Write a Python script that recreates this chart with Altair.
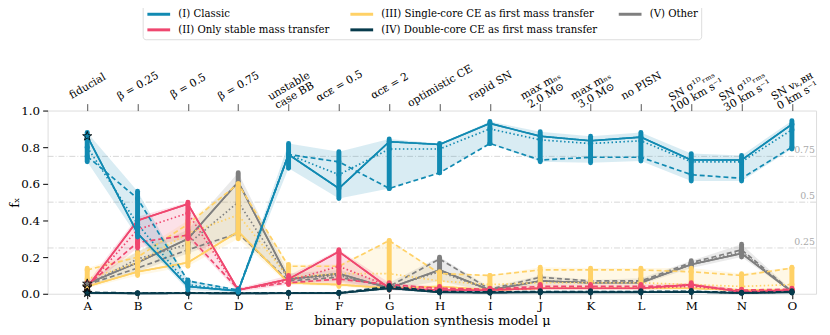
import json
import altair as alt
import pandas as pd

# ---------------- data ----------------
LETTERS = list("ABCDEFGHIJKLMNO")
TOP_LABELS = [
    ["fiducial"], ["β = 0.25"], ["β = 0.5"], ["β = 0.75"],
    ["unstable", "case BB"], ["αᴄᴇ = 0.5"], ["αᴄᴇ = 2"], ["optimistic CE"],
    ["rapid SN"], ["max mₙₛ", "2.0 M⊙"], ["max mₙₛ", "3.0 M⊙"], ["no PISN"],
    ["SN σ¹ᴰᵣₘₛ", "100 km s⁻¹"], ["SN σ¹ᴰᵣₘₛ", "30 km s⁻¹"], ["SN vₖ,ʙʜ", "0 km s⁻¹"],
]
CLASS_NAMES = [
    "(I) Classic",
    "(II) Only stable mass transfer",
    "(III) Single-core CE as first mass transfer",
    "(IV) Double-core CE as first mass transfer",
    "(V) Other",
]
COLORS = ["#118ab2", "#ef476f", "#ffd166", "#073b4c", "#7f7f7f"]

I_SOLID = [0.86, 0.33, 0.04, 0.015, 0.76, 0.575, 0.83, 0.815, 0.93, 0.86, 0.835, 0.855, 0.73, 0.73, 0.925]
I_DOTTED = [0.80, 0.38, 0.05, 0.015, 0.76, 0.65, 0.79, 0.79, 0.90, 0.84, 0.82, 0.835, 0.72, 0.72, 0.895]
I_DASHED = [0.75, 0.52, 0.07, 0.02, 0.76, 0.72, 0.575, 0.66, 0.82, 0.73, 0.745, 0.745, 0.65, 0.63, 0.80]
I_LOW = [0.72, 0.31, 0.02, 0.008, 0.685, 0.52, 0.575, 0.66, 0.82, 0.72, 0.715, 0.725, 0.615, 0.615, 0.79]
I_HIGH = [0.88, 0.56, 0.075, 0.025, 0.82, 0.775, 0.845, 0.82, 0.94, 0.885, 0.86, 0.88, 0.765, 0.755, 0.945]

II_SOLID = [0.035, 0.40, 0.49, 0.02, 0.08, 0.23, 0.03, 0.02, 0.02, 0.03, 0.03, 0.03, 0.05, 0.01, 0.02]
II_DOTTED = [0.04, 0.35, 0.44, 0.02, 0.07, 0.15, 0.04, 0.03, 0.02, 0.03, 0.03, 0.03, 0.04, 0.015, 0.02]
II_DASHED = [0.045, 0.28, 0.32, 0.025, 0.06, 0.08, 0.05, 0.03, 0.025, 0.04, 0.04, 0.04, 0.045, 0.02, 0.025]
II_LOW = [0.03, 0.25, 0.30, 0.01, 0.05, 0.06, 0.02, 0.015, 0.015, 0.02, 0.02, 0.02, 0.03, 0.005, 0.01]
II_HIGH = [0.06, 0.42, 0.50, 0.03, 0.10, 0.24, 0.06, 0.04, 0.03, 0.05, 0.05, 0.05, 0.06, 0.025, 0.03]

III_SOLID = [0.04, 0.12, 0.17, 0.34, 0.06, 0.05, 0.03, 0.04, 0.02, 0.03, 0.03, 0.03, 0.03, 0.02, 0.02]
III_DOTTED = [0.08, 0.17, 0.33, 0.43, 0.09, 0.11, 0.11, 0.07, 0.05, 0.06, 0.06, 0.06, 0.05, 0.04, 0.05]
III_DASHED = [0.13, 0.20, 0.38, 0.60, 0.15, 0.15, 0.29, 0.11, 0.10, 0.13, 0.13, 0.13, 0.12, 0.10, 0.14]
III_LOW = [0.03, 0.10, 0.15, 0.30, 0.05, 0.04, 0.02, 0.02, 0.015, 0.02, 0.02, 0.02, 0.02, 0.015, 0.015]
III_HIGH = [0.14, 0.225, 0.40, 0.60, 0.16, 0.16, 0.29, 0.12, 0.10, 0.145, 0.14, 0.14, 0.14, 0.11, 0.145]

IV_SOLID = [0.005, 0.002, 0.003, 0.002, 0.003, 0.003, 0.03, 0.008, 0.006, 0.008, 0.008, 0.008, 0.01, 0.004, 0.008]
IV_DOTTED = [0.006, 0.003, 0.004, 0.003, 0.004, 0.004, 0.035, 0.01, 0.008, 0.01, 0.01, 0.01, 0.012, 0.005, 0.01]
IV_DASHED = [0.008, 0.004, 0.005, 0.004, 0.005, 0.005, 0.04, 0.012, 0.01, 0.012, 0.012, 0.012, 0.014, 0.006, 0.012]
IV_LOW = [0.002, 0.001, 0.001, 0.001, 0.001, 0.001, 0.02, 0.004, 0.003, 0.004, 0.004, 0.004, 0.006, 0.002, 0.004]
IV_HIGH = [0.012, 0.006, 0.008, 0.006, 0.008, 0.008, 0.045, 0.016, 0.014, 0.016, 0.016, 0.016, 0.018, 0.009, 0.016]

V_SOLID = [0.055, 0.17, 0.30, 0.61, 0.08, 0.11, 0.03, 0.13, 0.02, 0.07, 0.06, 0.06, 0.16, 0.22, 0.01]
V_DOTTED = [0.05, 0.19, 0.27, 0.50, 0.08, 0.10, 0.035, 0.12, 0.02, 0.07, 0.06, 0.065, 0.16, 0.23, 0.01]
V_DASHED = [0.05, 0.14, 0.24, 0.33, 0.07, 0.09, 0.04, 0.19, 0.025, 0.09, 0.07, 0.07, 0.17, 0.24, 0.012]
V_LOW = [0.04, 0.12, 0.22, 0.32, 0.06, 0.07, 0.02, 0.07, 0.01, 0.05, 0.05, 0.05, 0.14, 0.20, 0.005]
V_HIGH = [0.07, 0.23, 0.35, 0.66, 0.11, 0.13, 0.06, 0.20, 0.035, 0.10, 0.075, 0.085, 0.18, 0.27, 0.02]

GRID_VALUES = [0.25, 0.5, 0.75]
GRID_TEXT = ["0.25", "0.5", "0.75"]
Y_TICKS = [0.0, 0.2, 0.4, 0.6, 0.8, 1.0]

SERIES = [
    (I_SOLID, I_DOTTED, I_DASHED, I_LOW, I_HIGH),
    (II_SOLID, II_DOTTED, II_DASHED, II_LOW, II_HIGH),
    (III_SOLID, III_DOTTED, III_DASHED, III_LOW, III_HIGH),
    (IV_SOLID, IV_DOTTED, IV_DASHED, IV_LOW, IV_HIGH),
    (V_SOLID, V_DOTTED, V_DASHED, V_LOW, V_HIGH),
]

# ---------------- chart ----------------
FONT = "DejaVu Serif"
W, H = 776, 185
xscale = alt.Scale(domain=[-0.787, 14.48], nice=False, zero=False)
yscale = alt.Scale(domain=[0, 1], nice=False, zero=False)

bottom_axis = alt.Axis(
    orient="bottom", values=list(range(15)),
    labelExpr=json.dumps(LETTERS) + "[datum.value]",
    title="binary population synthesis model μ", grid=False, domain=False,
    tickSize=5, tickColor="black", labelPadding=2, labelFontSize=12,
    titleFontSize=13, titleFontWeight="normal", titlePadding=3, labelColor="black",
    titleColor="black", labelOverlap=False, labelFlush=False,
)
top_axis = alt.Axis(
    orient="top", values=list(range(15)),
    labelExpr=json.dumps(TOP_LABELS, ensure_ascii=False) + "[datum.value]",
    title=None, grid=False, domain=False, tickSize=7, tickColor="#555555",
    labelAngle=330, labelAlign="center", labelBaseline="middle",
    labelPadding=18, labelFontSize=10.8, labelLineHeight=11, labelColor="black",
    labelOverlap=False, labelFlush=False, labelBound=False,
)
y_axis = alt.Axis(
    orient="left", values=Y_TICKS, format=".1f", title="fₓ",
    grid=False, domain=False, tickSize=5, tickColor="black", labelPadding=3,
    labelFontSize=12, titleFontSize=13, titleFontWeight="normal",
    titleX=-33, titleY=H / 2, titleAngle=270, titleAlign="center",
    titleBaseline="middle",
    labelColor="black", titleColor="black", labelOverlap=False, labelFlush=False,
)


def X(axis=None):
    return alt.X("x:Q", scale=xscale, axis=axis)


def Y(field):
    return alt.Y(field, scale=yscale, axis=y_axis)


rows = []
for ci, (name, col, ser) in enumerate(zip(CLASS_NAMES, COLORS, SERIES)):
    solid, dotted, dashed, lo, hi = ser
    for i in range(15):
        rows.append(dict(cls=name, ci=ci, x=i, solid=solid[i], dotted=dotted[i],
                         dashed=dashed[i], lo=lo[i], hi=hi[i], col=col))
df = pd.DataFrame(rows)

layers = []
gdf = pd.DataFrame({"v": GRID_VALUES, "t": GRID_TEXT})
layers.append(
    alt.Chart(gdf).mark_rule(color="#cccccc", strokeWidth=0.8, strokeDash=[6, 2, 1, 2])
    .encode(y=Y("v:Q"))
)
layers.append(
    alt.Chart(gdf).mark_text(align="right", baseline="bottom", dy=-1, fontSize=9.5,
                             color="#aaaaaa", font=FONT)
    .encode(y=Y("v:Q"), x=alt.value(W - 1), text="t:N")
)

draw_order = [4, 2, 1, 3, 0]
for ci in draw_order:
    sub = df[df.ci == ci]
    layers.append(
        alt.Chart(sub).mark_area(opacity=0.16, color=COLORS[ci]).encode(
            x=X(bottom_axis if ci == 4 else None), y=Y("lo:Q"), y2="hi:Q",
        )
    )

# legend carrier (solid lines, redrawn later) + top axis
LEG_PATH = "M-1,0H3"
layers.append(
    alt.Chart(df).mark_line(strokeWidth=1.6).encode(
        x=X(top_axis),
        y=Y("solid:Q"),
        color=alt.Color(
            "cls:N",
            scale=alt.Scale(domain=CLASS_NAMES, range=COLORS),
            legend=alt.Legend(
                title=None, orient="none", legendX=96, legendY=-108, columns=3,
                symbolType=LEG_PATH, symbolStrokeWidth=3, symbolSize=132,
                symbolOpacity=1, labelFont=FONT, labelFontSize=10.25, labelColor="black",
                labelLimit=400, labelOffset=18, columnPadding=14, rowPadding=2,
                padding=3, strokeColor="#dddddd", fillColor="white", cornerRadius=3,
            ),
        ),
        detail="cls:N",
    )
)

for ci in draw_order:
    sub = df[df.ci == ci]
    c = COLORS[ci]
    layers.append(
        alt.Chart(sub).mark_rule(color=c, strokeWidth=5, strokeCap="round").encode(
            x=X(), y=Y("lo:Q"), y2="hi:Q"
        )
    )
    for field, dash in (("dashed", [5, 3]), ("dotted", [1.5, 2.5]), ("solid", [1, 0])):
        layers.append(
            alt.Chart(sub).mark_line(color=c, strokeWidth=1.7, strokeDash=dash).encode(
                x=X(), y=Y(f"{field}:Q")
            )
        )
        layers.append(
            alt.Chart(sub).mark_circle(color=c, size=26, opacity=1).encode(
                x=X(), y=Y(f"{field}:Q")
            )
        )

STAR = ("M0,-1L0.2245,-0.309L0.9511,-0.309L0.3633,0.118L0.5878,0.809L0,0.382"
        "L-0.5878,0.809L-0.3633,0.118L-0.9511,-0.309L-0.2245,-0.309Z")
stars = df[df.x == 0]
layers.append(
    alt.Chart(stars).mark_point(shape=STAR, size=95, filled=True, stroke="black",
                                strokeWidth=0.8, opacity=1).encode(
        x=X(), y=Y("solid:Q"), fill=alt.Fill("col:N", scale=None),
    )
)

chart = alt.layer(*layers).properties(
    width=W, height=H,
    autosize=alt.AutoSizeParams(type="none"),
    padding={"left": 40, "top": 102, "right": 6, "bottom": 32},
).configure_view(stroke="black", strokeWidth=1.2).configure(font=FONT)

chart.save("out.html", embed_options={"renderer": "svg", "actions": False})
